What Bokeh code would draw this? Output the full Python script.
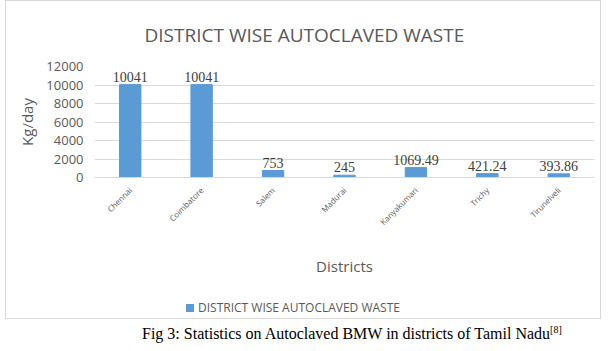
import math
from bokeh.plotting import figure
from bokeh.models import ColumnDataSource, LabelSet, Div, FixedTicker, Range1d
from bokeh.layouts import column
from bokeh.embed import file_html
from bokeh.resources import INLINE

districts = ["Chennai", "Coimbatore", "Salem", "Madurai", "Kanyakumari", "Trichy", "Tirunelveli"]
values = [10041, 10041, 753, 245, 1069.49, 421.24, 393.86]
value_labels = ["10041", "10041", "753", "245", "1069.49", "421.24", "393.86"]
y_ticks = [0, 2000, 4000, 6000, 8000, 10000, 12000]
series_name = "DISTRICT WISE AUTOCLAVED WASTE"
chart_title = "DISTRICT WISE AUTOCLAVED WASTE"
y_title = "Kg/day"
x_title = "Districts"
caption_html = "Fig 3: Statistics on Autoclaved BMW in districts of Tamil Nadu<sup style='font-size:10px'>[8]</sup>"

BAR = "#5B9BD5"
FONT = "Open Sans"
GREY = "#595959"

src = ColumnDataSource(dict(d=districts, v=values, lab=value_labels))

p = figure(x_range=districts, y_range=Range1d(0, 12000), frame_width=500, frame_height=111,
           output_backend="svg", toolbar_location=None,
           min_border_left=88, min_border_right=6, min_border_top=0, min_border_bottom=4)

p.title.text = chart_title
p.title.align = "left"
p.title.offset = 50
p.title.text_font = FONT
p.title.text_font_size = "19px"
p.title.text_font_style = "normal"
p.title.text_color = GREY
p.title.standoff = 37

r = p.vbar(x="d", top="v", width=0.3, source=src, color=BAR)

labels = LabelSet(x="d", y="v", text="lab", source=src, text_align="center",
                  text_baseline="bottom", y_offset=3, text_font_size="14px",
                  text_color="#404040")
labels.text_font = "Liberation Serif"
p.add_layout(labels)

p.outline_line_color = None
p.xgrid.grid_line_color = None
p.ygrid.grid_line_color = "#d9d9d9"

p.yaxis.ticker = FixedTicker(ticks=y_ticks)
p.yaxis.axis_line_color = None
p.yaxis.major_tick_line_color = None
p.yaxis.minor_tick_line_color = None
p.yaxis.major_label_text_font = FONT
p.yaxis.major_label_text_font_size = "13px"
p.yaxis.major_label_text_color = GREY
p.yaxis.axis_label = y_title
p.yaxis.axis_label_text_font = FONT
p.yaxis.axis_label_text_font_size = "15px"
p.yaxis.axis_label_text_font_style = "normal"
p.yaxis.axis_label_text_color = GREY
p.yaxis.axis_label_standoff = 6

p.xaxis.axis_line_color = "#d9d9d9"
p.xaxis.major_tick_line_color = None
p.xaxis.major_label_orientation = math.pi / 4
p.xaxis.major_label_text_font = FONT
p.xaxis.major_label_text_font_size = "8px"
p.xaxis.major_label_text_color = GREY
p.xaxis.axis_label = x_title
p.xaxis.axis_label_text_font = FONT
p.xaxis.axis_label_text_font_size = "15px"
p.xaxis.axis_label_text_font_style = "normal"
p.xaxis.axis_label_text_color = GREY
p.xaxis.axis_label_standoff = 22

legend_html = ("<span style='display:inline-block;width:8px;height:8px;background:%s;"
               "margin-right:4px'></span>%s" % (BAR, series_name))
leg = Div(text=legend_html, width=590, height=19, margin=(21, 0, 0, 0),
          styles={"font-family": FONT, "font-size": "12px", "color": GREY,
                  "text-align": "center", "padding-right": "16px"})

chart = column(p, leg, margin=(0, 0, 0, 5),
               styles={"border": "1px solid #d9d9d9"})

cap = Div(text=caption_html, width=470, height=22, margin=(4, 0, 0, 142),
          styles={"font-family": "Liberation Serif", "font-size": "16px", "color": "#000000"})

layout = column(chart, cap)

open("out.html", "w").write(file_html(layout, INLINE))
